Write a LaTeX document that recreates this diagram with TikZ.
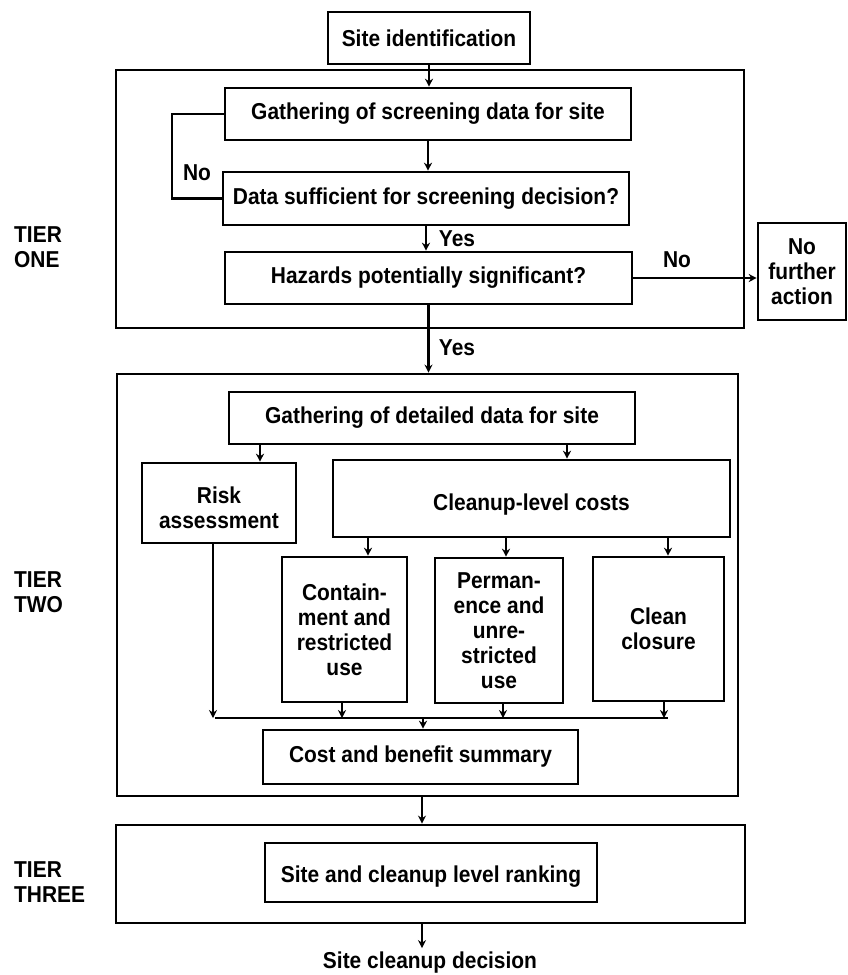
\documentclass[tikz,border=0pt]{standalone}
\usepackage{fontspec}
\setmainfont{Liberation Sans}[FakeStretch=0.91]
\usetikzlibrary{arrows.meta}
\begin{document}
\begin{tikzpicture}[x=1pt,y=-1pt,
  every node/.style={font=\fontsize{23}{25}\selectfont\bfseries, inner sep=0pt},
  stepbox/.style={draw, line width=2.6pt, align=center},
  frame/.style={draw, line width=2.8pt},
  txt/.style={align=center},
  side/.style={align=left, anchor=west},
  arr/.style={line width=2.2pt, -{Stealth[length=8pt,width=8pt]}},
  link/.style={line width=2.2pt}]
\useasboundingbox (0,0) rectangle (848,975);

% Tier one
\node[stepbox, minimum width=202pt, minimum height=52pt] (siteid) at (429,38) {Site identification};
\node[frame, minimum width=628pt, minimum height=258pt] (tierone) at (430,199) {};
\node[stepbox, minimum width=406pt, minimum height=52pt] (gscr) at (428,114) {Gathering of screening data for site};
\node[stepbox, minimum width=406pt, minimum height=53pt] (dsuf) at (426,198.5) {Data sufficient for screening decision?};
\node[stepbox, minimum width=407pt, minimum height=52pt] (haz) at (428.5,278) {Hazards potentially significant?};
\node[stepbox, minimum width=88pt, minimum height=97pt] (nofa) at (802,271.5) {No\\further\\action};
\node[side] (t1) at (14,247.5) {TIER\\ONE};

\draw[arr] (siteid.south) -- (siteid.south |- gscr.north);
\draw[arr] (gscr.south) -- (gscr.south |- dsuf.north);
\draw[link] (dsuf.west) -- ++(-50,0) |- (gscr.west);
\node[txt] (lno1) at (197,173) {No};
\draw[arr] (dsuf.south) -- (dsuf.south |- haz.north);
\node[txt] (lyes1) at (457,239) {Yes};
\draw[arr] (haz.east) -- (haz.east -| nofa.west);
\node[txt] (lno2) at (677,260) {No};

% Tier two
\node[frame, minimum width=621pt, minimum height=422pt] (tiertwo) at (427.5,585) {};
\draw[arr] (haz.south) -- (haz.south |- tiertwo.north);
\node[txt] (lyes2) at (457,348) {Yes};
\node[side] (t2) at (14,592.5) {TIER\\TWO};

\node[stepbox, minimum width=406pt, minimum height=52pt] (gdet) at (432,418) {Gathering of detailed data for site};
\node[stepbox, minimum width=154pt, minimum height=80pt] (risk) at (219,503) {};
\node[txt] (risktxt) at (219,507.5) {Risk\\assessment};
\node[stepbox, minimum width=397pt, minimum height=77pt] (cost) at (531.5,498.5) {};
\node[txt] (costtxt) at (531.5,505) {Cleanup-level costs};
\node[stepbox, minimum width=125pt, minimum height=145pt] (cont) at (344.5,629.5) {Contain-\\ment and\\restricted\\use};
\node[stepbox, minimum width=128pt, minimum height=145pt] (perm) at (499,630.5) {Perman-\\ence and\\unre-\\stricted\\use};
\node[stepbox, minimum width=131pt, minimum height=144pt] (clean) at (658.5,629) {Clean\\closure};
\node[stepbox, minimum width=315pt, minimum height=54pt] (summ) at (420.5,757) {Cost and benefit summary};

\draw[arr] ([xshift=41pt]risk.north |- gdet.south) -- ([xshift=41pt]risk.north);
\draw[arr] ([xshift=35.5pt]cost.north |- gdet.south) -- ([xshift=35.5pt]cost.north);
\draw[arr] ([xshift=23.5pt]cont.north |- cost.south) -- ([xshift=23.5pt]cont.north);
\draw[arr] ([xshift=7pt]perm.north |- cost.south) -- ([xshift=7pt]perm.north);
\draw[arr] ([xshift=9.5pt]clean.north |- cost.south) -- ([xshift=9.5pt]clean.north);

% collecting line above the summary
\coordinate (busL) at (215,718);
\coordinate (busR) at (668,718);
\draw[link] (busL) -- (busR);
\draw[arr] ([xshift=-6pt]risk.south) -- ([xshift=-6pt]risk.south |- busL);
\draw[arr] ([xshift=-2.5pt]cont.south) -- ([xshift=-2.5pt]cont.south |- busL);
\draw[arr] ([xshift=4pt]perm.south) -- ([xshift=4pt]perm.south |- busL);
\draw[arr] ([xshift=5.5pt]clean.south) -- ([xshift=5.5pt]clean.south |- busL);
\draw[arr] ([xshift=2.5pt]summ.north |- busL) -- ([xshift=2.5pt]summ.north);

% Tier three
\node[frame, minimum width=629pt, minimum height=98pt] (tierthree) at (430.5,874) {};
\node[stepbox, minimum width=332pt, minimum height=59pt] (rank) at (431,872.5) {};
\node[txt] (ranktxt) at (431,877) {Site and cleanup level ranking};
\node[side] (t3) at (14,882.5) {TIER\\THREE};
\draw[arr] ([xshift=-5.5pt]tiertwo.south) -- ([xshift=-5.5pt]tiertwo.south |- tierthree.north);

\node[txt, inner ysep=4pt] (decision) at (430,963) {Site cleanup decision};
\draw[arr] ([xshift=-8.5pt]tierthree.south) -- ([xshift=-8.5pt]tierthree.south |- decision.north);
\end{tikzpicture}
\end{document}
